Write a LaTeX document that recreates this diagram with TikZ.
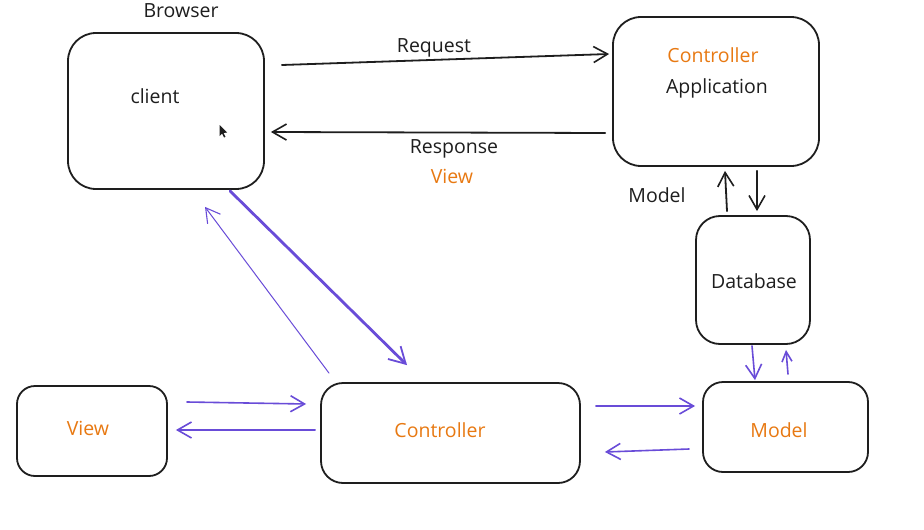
\documentclass[tikz,border=0pt]{standalone}
\usepackage{fontspec}
\setmainfont{Open Sans}
\usetikzlibrary{arrows.meta,calc}
\definecolor{accent}{RGB}{232,121,18}
\definecolor{flow}{RGB}{105,76,216}
\definecolor{ink}{RGB}{30,30,30}
\begin{document}
\begin{tikzpicture}[x=1pt,y=-1pt,
  box/.style={draw=ink,line width=1.8pt,rectangle,inner sep=0pt},
  lbl/.style={font=\fontsize{19.5}{22}\selectfont,text=ink,inner sep=0pt},
  olbl/.style={lbl,text=accent},
  tip/.style={-{Straight Barb[length=14pt,width=16pt,line width=1.6pt]}},
  blackarrow/.style={tip,draw=ink,line width=1.8pt},
  purplearrow/.style={tip,draw=flow,line width=1.6pt},
  line cap=round]
\useasboundingbox (0,0) rectangle (924,530);
\fill[white] (0,0) rectangle (924,530);

% boxes
\node[box,minimum width=196pt,minimum height=156pt,rounded corners=28pt] (client) at (166,111) {};
\node[box,minimum width=206pt,minimum height=149pt,rounded corners=28pt] (app) at (716,91.5) {};
\node[box,minimum width=114pt,minimum height=128pt,rounded corners=24pt] (db) at (753,280) {};
\node[box,minimum width=165pt,minimum height=90pt,rounded corners=20pt] (model) at (785.5,427) {};
\node[box,minimum width=259pt,minimum height=100pt,rounded corners=22pt] (ctrl) at (450.5,433) {};
\node[box,minimum width=150pt,minimum height=90pt,rounded corners=18pt] (view) at (92,431) {};

% texts
\node[lbl] (browser) at (181,11) {Browser};
\node[lbl] (clienttxt) at (155,96) {client};
\node[olbl] (apptitle) at (713,55) {Controller};
\node[lbl] (apptxt) at (717,88) {Application};
\node[lbl] (dbtxt) at (754,281) {Database};
\node[olbl] (modeltxt) at (779,430) {Model};
\node[olbl] (ctrltxt) at (440,430) {Controller};
\node[olbl] (viewtxt) at (88,428) {View};
\node[lbl] (req) at (434,48) {Request};
\node[lbl] (resp) at (454,149) {Response};
\node[olbl] (respview) at (452,176) {View};
\node[lbl] (modellbl) at (657,195) {Model};

% mouse pointer
\fill[ink] (219.5,125) -- (219.5,136) -- (222,133.5) -- (224,137.5) -- (225.5,136.8) -- (223.5,133) -- (227,132.5) -- cycle;

% browser <-> application
\draw[blackarrow] ($(client.east)+(17,-46)$) -- ($(app.west)+(-3,-37.5)$);
\draw[blackarrow] ($(app.west)+(-7,41.5)$) -- ($(client.east)+(6,21)$);

% application <-> database
\draw[blackarrow] ($(db.north)+(-26,-4)$) -- ($(app.south)+(9,4)$);
\draw[blackarrow] ($(app.south)+(41,4)$) -- ($(db.north)+(4,-4)$);

% database <-> model
\draw[purplearrow] ($(db.south)+(-1,1)$) -- ($(model.north)+(-30.5,-1)$);
\draw[purplearrow,-{Straight Barb[length=10pt,width=10pt,line width=1.6pt]}] ($(model.north)+(2.5,-7)$) -- ($(db.south)+(33,5)$);

% view <-> controller
\draw[purplearrow] ($(view.east)+(19,-29)$) -- ($(ctrl.west)+(-14,-29)$);
\draw[purplearrow] ($(ctrl.west)+(-5,-3)$) -- ($(view.east)+(8,-1)$);

% controller <-> model
\draw[purplearrow] ($(ctrl.east)+(15,-27)$) -- ($(model.west)+(-7,-21)$);
\draw[purplearrow] ($(model.west)+(-13,22)$) -- ($(ctrl.east)+(24,19)$);

% client <-> controller
\draw[purplearrow,line width=2.8pt,-{Straight Barb[length=16pt,width=18pt,line width=1.8pt]}] ($(client.south)+(64,1)$) -- ($(ctrl.north)+(-43.5,-17)$);
\draw[purplearrow,line width=1pt,-{Straight Barb[length=14pt,width=16pt,line width=1.1pt]}] ($(ctrl.north)+(-121.5,-9)$) -- ($(client.south)+(39,17)$);
\end{tikzpicture}
\end{document}
